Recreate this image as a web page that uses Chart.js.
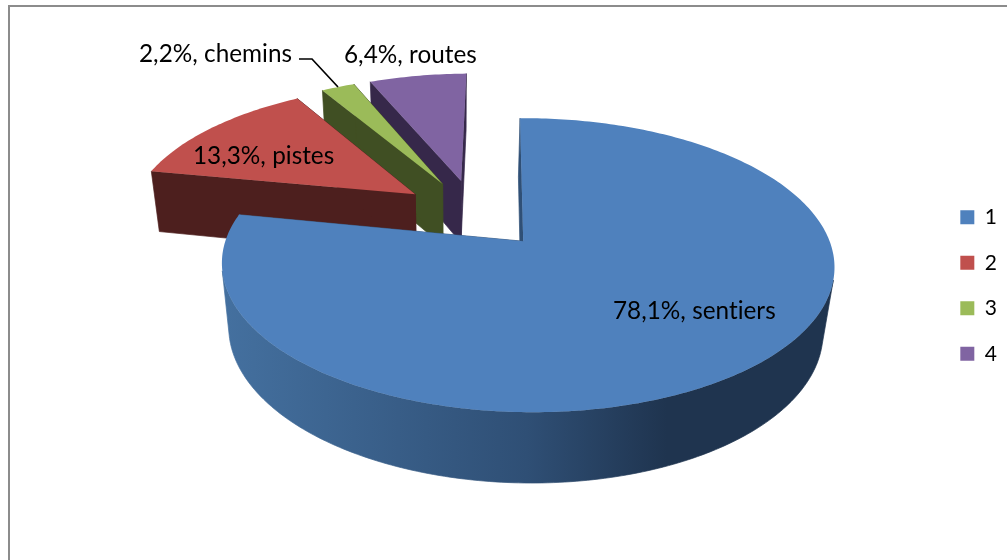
<!DOCTYPE html>
<html>
<head>
<meta charset="utf-8">
<style>
  html, body { margin: 0; background: #fff; overflow: hidden; }
  #frame { position: absolute; left: 8px; top: 5px; width: 1100px; height: 700px; border: 2px solid #8c8c8c; box-sizing: border-box; }
  #wrap { position: absolute; left: 0; top: 0; width: 1007px; height: 560px; }
</style>
</head>
<body>
<div id="frame"></div>
<div id="wrap"><canvas id="chart"></canvas></div>
<script src="https://cdn.jsdelivr.net/npm/chart.js@4"></script>
<script>
const categories = ["1", "2", "3", "4"];
const shares = [78.1, 13.3, 2.2, 6.4];
const names = ["sentiers", "pistes", "chemins", "routes"];
const topColors = ["#4f81bd", "#c0504d", "#9bbb59", "#8064a2"];
const wallColors = ["#2e4d72", "#4d1f1e", "#404f23", "#36284a"];

// where the data labels sit (left edge, middle of the text)
const labelSpots = [[613, 311], [193, 156], [139, 54], [344, 55]];

// 3D look: pie plane -> screen, fitted on the picture
const cam = { cx: 522, cy: 241, A: 302, B: 143, s: 3.5, S: -2, p: 0.163, q: 0.014, H: 66.5, r: 0.03, cu: -0.16, cv: -0.198 };

function project(u, v, z) {
  u += cam.cu;
  v += cam.cv;
  const w = 1 - cam.p * v - cam.q * u + cam.r * z;
  return [cam.cx + (cam.A * u + cam.s * v + cam.S * z) / w, cam.cy + (cam.B * v + cam.H * z) / w];
}

function tracePoly(ctx, pts) {
  ctx.beginPath();
  pts.forEach((p, i) => i ? ctx.lineTo(p[0], p[1]) : ctx.moveTo(p[0], p[1]));
  ctx.closePath();
}

// rim + apex of a slice in pie units, taken from the library's arc element
function slicePoints(arc) {
  const { startAngle, endAngle, outerRadius } = arc.getProps(["startAngle", "endAngle", "outerRadius"]);
  const mid = (startAngle + endAngle) / 2;
  const off = arc.options.offset / outerRadius;
  const ox = Math.cos(mid) * off, oy = Math.sin(mid) * off;
  const rim = [];
  const steps = Math.ceil((endAngle - startAngle) * 60);
  for (let i = 0; i <= steps; i++) {
    const a = startAngle + (endAngle - startAngle) * i / steps;
    rim.push([ox + Math.cos(a), oy + Math.sin(a)]);
  }
  return { apex: [ox, oy], rim };
}

function area(pts) {
  let s = 0;
  pts.forEach((p, i) => { const n = pts[(i + 1) % pts.length]; s += p[0] * n[1] - n[0] * p[1]; });
  return s;
}

// wall under a run of pie points
function drawWall(ctx, run, fill) {
  const top = run.map(p => project(p[0], p[1], 0));
  const bottom = run.map(p => project(p[0], p[1], 1)).reverse();
  ctx.fillStyle = fill;
  ctx.strokeStyle = fill;
  ctx.lineWidth = 0.7;
  tracePoly(ctx, top.concat(bottom));
  ctx.fill();
  ctx.stroke();
}

const pie3d = {
  id: "pie3d",
  beforeDatasetsDraw(chart) {
    const ctx = chart.ctx;
    const arcs = chart.getDatasetMeta(0).data;
    const side = ctx.createLinearGradient(225, 0, 830, 0);
    side.addColorStop(0, "#44709f");
    side.addColorStop(0.5, "#2f4f75");
    side.addColorStop(0.73, "#1f344f");
    side.addColorStop(1, "#1f344f");

    ctx.save();
    // back slices first, the big one goes on top
    [3, 2, 1, 0].forEach(i => {
      const { apex, rim } = slicePoints(arcs[i]);
      const wall = i === 0 ? side : wallColors[i];
      // radial faces
      drawWall(ctx, [apex, rim[0]], wall);
      drawWall(ctx, [rim[rim.length - 1], apex], wall);
      // round face, only the part turned to the viewer
      let run = [];
      for (let k = 0; k < rim.length - 1; k++) {
        const a = rim[k], b = rim[k + 1];
        const quad = [project(a[0], a[1], 0), project(b[0], b[1], 0), project(b[0], b[1], 1), project(a[0], a[1], 1)];
        if (area(quad) < 0) {
          if (!run.length) run.push(a);
          run.push(b);
        } else if (run.length) {
          drawWall(ctx, run, wall);
          run = [];
        }
      }
      if (run.length) drawWall(ctx, run, wall);
      tracePoly(ctx, [apex].concat(rim).map(p => project(p[0], p[1], 0)));
      ctx.fillStyle = topColors[i];
      ctx.fill();
    });
    ctx.restore();
    return false;
  },
  // afterDatasetsDraw is skipped once the hook above returns false
  afterDraw(chart) {
    const ctx = chart.ctx;
    ctx.save();
    // leader line of the small slice
    ctx.strokeStyle = "#000";
    ctx.lineWidth = 1.7;
    ctx.beginPath();
    ctx.moveTo(299, 59);
    ctx.lineTo(312, 59);
    ctx.lineTo(338, 87);
    ctx.stroke();
    ctx.fillStyle = "#000";
    ctx.font = "24.3px Lato";
    ctx.letterSpacing = "0.02px"; // keeps the "ti" of sentiers apart
    ctx.textBaseline = "middle";
    shares.forEach((v, i) => {
      const text = String(v).replace(".", ",") + "%, " + names[i];
      ctx.fillText(text, labelSpots[i][0], labelSpots[i][1]);
    });
    ctx.restore();
  }
};

new Chart(document.getElementById("chart"), {
  type: "pie",
  data: {
    labels: categories,
    datasets: [{ data: shares, backgroundColor: topColors, borderWidth: 0, offset: 62 }]
  },
  options: {
    responsive: true,
    maintainAspectRatio: false,
    animation: false,
    radius: 240,
    layout: { padding: { top: 11 } },
    plugins: {
      tooltip: { enabled: false },
      legend: {
        position: "right",
        labels: { boxWidth: 14, boxHeight: 14, padding: 24.5, color: "#000", font: { family: "Lato", size: 21 } }
      }
    }
  },
  plugins: [pie3d]
});
</script>
</body>
</html>
